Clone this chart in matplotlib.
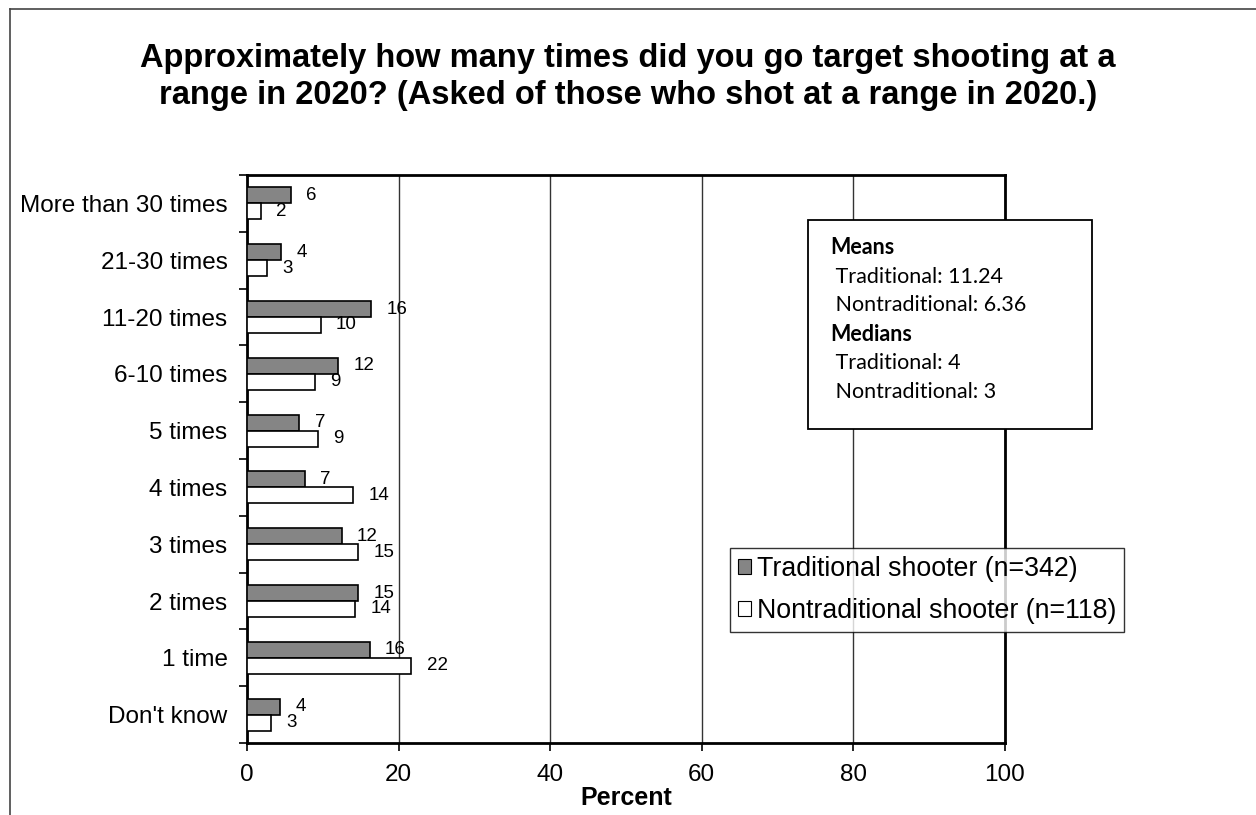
import numpy as np
import matplotlib
matplotlib.use('Agg')
import matplotlib.pyplot as plt
from matplotlib.patches import Rectangle, Patch
from matplotlib.lines import Line2D

# ============================================================================
# DATA
# ============================================================================
categories = ['More than 30 times', '21-30 times', '11-20 times', '6-10 times',
              '5 times', '4 times', '3 times', '2 times', '1 time', "Don't know"]
traditional = [5.8, 4.5, 16.4, 12.0, 6.9, 7.6, 12.5, 14.7, 16.2, 4.4]
nontraditional = [1.85, 2.7, 9.7, 9.0, 9.4, 14.0, 14.7, 14.3, 21.7, 3.2]
trad_labels = [6, 4, 16, 12, 7, 7, 12, 15, 16, 4]
nontrad_labels = [2, 3, 10, 9, 9, 14, 15, 14, 22, 3]
x_ticks = [0, 20, 40, 60, 80, 100]
series_names = ['Traditional shooter (n=342)', 'Nontraditional shooter (n=118)']
stats_lines = [('Means', True), (' Traditional: 11.24', False), (' Nontraditional: 6.36', False),
               ('Medians', True), (' Traditional: 4', False), (' Nontraditional: 3', False)]

title = ('Approximately how many times did you go target shooting at a\n'
         'range in 2020? (Asked of those who shot at a range in 2020.)')

W, H = 1256, 815
TRAD_COLOR = '#858585'


def fx(px):
    return px / W


def fy(py):
    return 1 - py / H


plt.rcParams['font.family'] = ['Liberation Sans', 'DejaVu Sans']

fig = plt.figure(figsize=(W / 100, H / 100), dpi=100)
fig.patch.set_facecolor('white')

# outer frame (left and top edges)
fig.add_artist(Line2D([fx(10), fx(10)], [fy(9), 0], transform=fig.transFigure,
                      color='#444444', lw=1.2))
fig.add_artist(Line2D([fx(10), 1], [fy(9), fy(9)], transform=fig.transFigure,
                      color='#444444', lw=1.2))

fig.text(0.5, fy(77), title, ha='center', va='center', fontsize=23.5,
         fontweight='bold', linespacing=1.25)

ax = fig.add_axes([fx(247), fy(743), fx(1005) - fx(247), fy(175) - fy(743)])

y = np.arange(len(categories))
bar_h = 0.28
ax.barh(y - bar_h / 2, traditional, height=bar_h, color=TRAD_COLOR,
        edgecolor='black', linewidth=1.2, zorder=3)
ax.barh(y + bar_h / 2, nontraditional, height=bar_h, color='white',
        edgecolor='black', linewidth=1.2, zorder=3)

for i in range(len(categories)):
    ax.annotate(str(trad_labels[i]), (traditional[i], y[i] - bar_h / 2),
                xytext=(11, 0), textcoords='offset points', ha='left',
                va='center', fontsize=13.5)
    ax.annotate(str(nontrad_labels[i]), (nontraditional[i], y[i] + bar_h / 2),
                xytext=(11, 0), textcoords='offset points', ha='left',
                va='center', fontsize=13.5)

ax.set_xlim(0, 100)
ax.set_ylim(len(categories) - 0.5, -0.5)
ax.set_xticks(x_ticks)
ax.set_xticklabels([str(v) for v in x_ticks], fontsize=17.5)
ax.set_yticks(y)
ax.set_yticklabels(categories, fontsize=17.5)
ax.set_yticks(np.arange(len(categories) + 1) - 0.5, minor=True)
ax.tick_params(axis='y', which='major', length=0, pad=14)
ax.tick_params(axis='y', which='minor', length=6, width=1.2, direction='out')
ax.tick_params(axis='x', length=6, width=1.2, direction='out', pad=9)
ax.grid(axis='x', color='#333333', linewidth=1, zorder=0)
ax.set_axisbelow(True)
for s in ax.spines.values():
    s.set_linewidth(2)
ax.set_xlabel('Percent', fontsize=18, fontweight='bold', labelpad=0)

# statistics box
fig.add_artist(Rectangle((fx(808), fy(429)), fx(1092) - fx(808), fy(220) - fy(429),
                         transform=fig.transFigure, facecolor='white',
                         edgecolor='black', lw=1.3, zorder=5))
line_y = [248, 277, 305, 334, 363, 392]
for (txt, bold), ly in zip(stats_lines, line_y):
    fig.text(fx(830), fy(ly), txt, ha='left', va='center', fontsize=15.5,
             fontweight='bold' if bold else 'normal', family=['Lato', 'DejaVu Sans'],
             zorder=6)

# legend
handles = [Patch(facecolor=TRAD_COLOR, edgecolor='black', linewidth=0.8),
           Patch(facecolor='white', edgecolor='black', linewidth=0.8)]
leg = fig.legend(handles, series_names, loc='upper left',
                 bbox_to_anchor=(fx(730), fy(548)), fontsize=19.3,
                 frameon=True, fancybox=False, borderpad=0.3,
                 handlelength=0.5, handleheight=0.5, handletextpad=0.2,
                 labelspacing=0.6, borderaxespad=0)
leg.get_frame().set_edgecolor('black')
leg.get_frame().set_linewidth(1.0)
leg.set_zorder(6)

fig.savefig('out.png', dpi=100)
